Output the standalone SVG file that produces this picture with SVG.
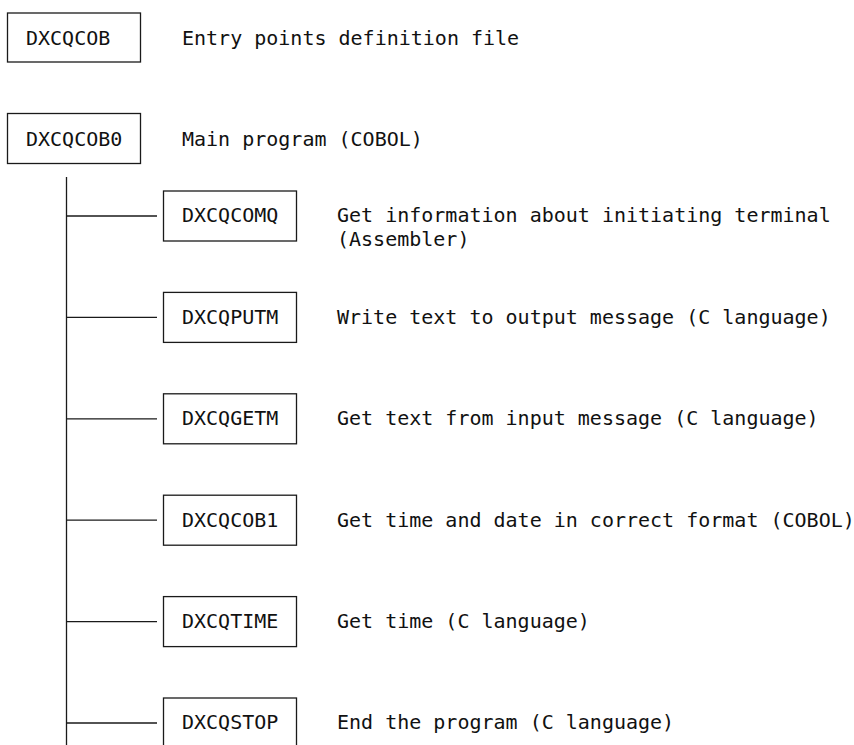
<svg xmlns="http://www.w3.org/2000/svg" width="854" height="745" viewBox="0 0 854 745">
<style>
.bg{fill:#ffffff}
.box{fill:#ffffff;stroke:#1a1a1a;stroke-width:1.3}
.ln{stroke:#1a1a1a;stroke-width:1.3;fill:none}
text{font-family:"DejaVu Sans Mono","Liberation Mono",monospace;font-size:20px;fill:#111111}
</style>
<rect class="bg" x="0" y="0" width="854" height="745"/>
<g id="connectors">
<line class="ln" x1="66.5" y1="177" x2="66.5" y2="745"/>
<line class="ln" x1="66.5" y1="216" x2="157" y2="216"/>
<line class="ln" x1="66.5" y1="317.4" x2="157" y2="317.4"/>
<line class="ln" x1="66.5" y1="418.8" x2="157" y2="418.8"/>
<line class="ln" x1="66.5" y1="520.2" x2="157" y2="520.2"/>
<line class="ln" x1="66.5" y1="621.6" x2="157" y2="621.6"/>
<line class="ln" x1="66.5" y1="723" x2="157" y2="723"/>
</g>
<g id="DXCQCOB">
<rect class="box" x="7.5" y="13" width="133" height="49"/>
<text x="26" y="45">DXCQCOB</text>
<text x="182" y="45">Entry points definition file</text>
</g>
<g id="DXCQCOB0">
<rect class="box" x="7.5" y="113.5" width="133" height="50"/>
<text x="26" y="145.5">DXCQCOB0</text>
<text x="182" y="145.5">Main program (COBOL)</text>
</g>
<g id="DXCQCOMQ">
<rect class="box" x="163.5" y="191" width="133" height="50"/>
<text x="182" y="222.3">DXCQCOMQ</text>
<text x="337" y="222.3">Get information about initiating terminal</text>
<text x="337" y="246.3">(Assembler)</text>
</g>
<g id="DXCQPUTM">
<rect class="box" x="163.5" y="292.4" width="133" height="50"/>
<text x="182" y="323.7">DXCQPUTM</text>
<text x="337" y="323.7">Write text to output message (C language)</text>
</g>
<g id="DXCQGETM">
<rect class="box" x="163.5" y="393.8" width="133" height="50"/>
<text x="182" y="425.1">DXCQGETM</text>
<text x="337" y="425.1">Get text from input message (C language)</text>
</g>
<g id="DXCQCOB1">
<rect class="box" x="163.5" y="495.2" width="133" height="50"/>
<text x="182" y="526.5">DXCQCOB1</text>
<text x="337" y="526.5">Get time and date in correct format (COBOL)</text>
</g>
<g id="DXCQTIME">
<rect class="box" x="163.5" y="596.6" width="133" height="50"/>
<text x="182" y="627.9">DXCQTIME</text>
<text x="337" y="627.9">Get time (C language)</text>
</g>
<g id="DXCQSTOP">
<rect class="box" x="163.5" y="698" width="133" height="50"/>
<text x="182" y="729.3">DXCQSTOP</text>
<text x="337" y="729.3">End the program (C language)</text>
</g>
</svg>
